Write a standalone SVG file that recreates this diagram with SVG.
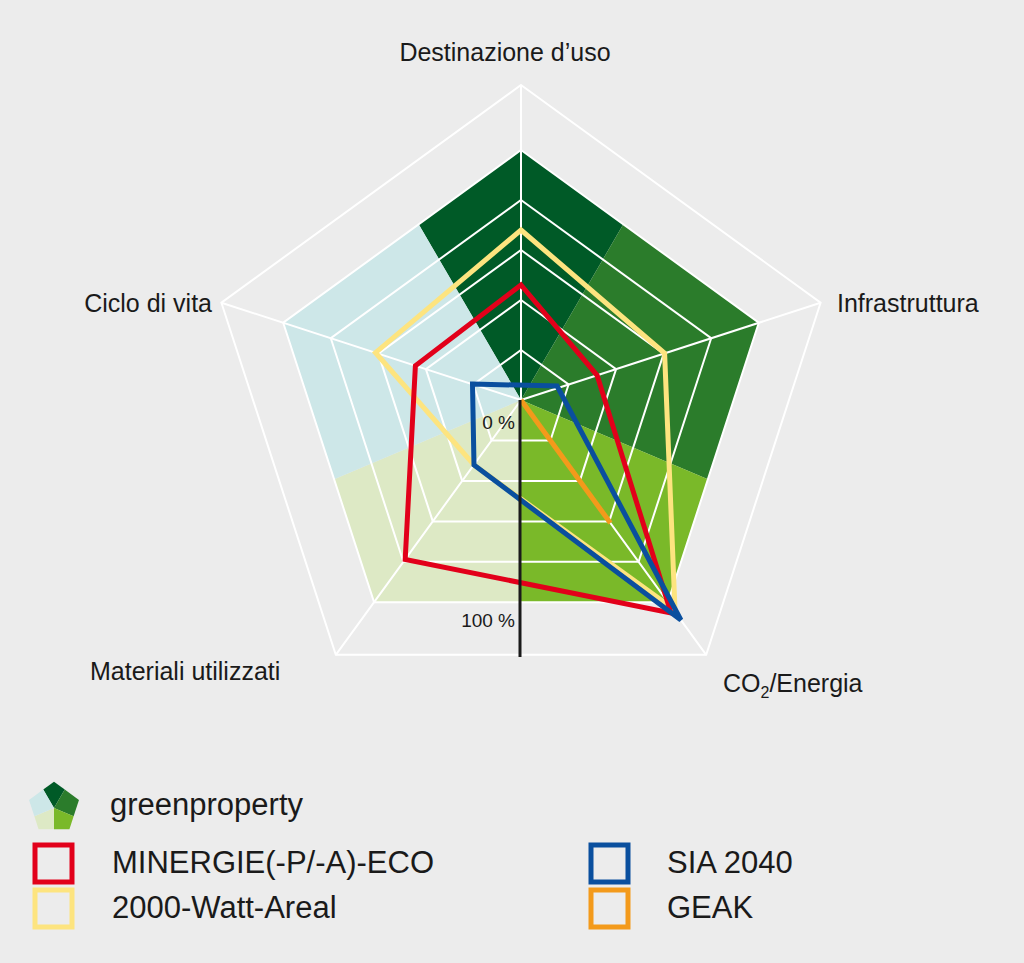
<svg xmlns="http://www.w3.org/2000/svg" xmlns:xlink="http://www.w3.org/1999/xlink" width="1024" height="963" viewBox="0 0 1024 963">
<style>
text{font-family:"Liberation Sans",Arial,sans-serif;fill:#1a1a1a}
.lbl{font-size:25px}
.leg{font-size:31px}
.pct{font-size:19px}
.grid{fill:none;stroke:#fff;stroke-width:2}
.d{fill:none;stroke-width:5;stroke-linejoin:miter}
.sq{fill:none;stroke-width:5}
</style>
<defs>
<g id="wedges">
<polygon fill="#005a27" points="521,400 418.7,224.3 521,150 623.3,224.3"/>
<polygon fill="#2b7c2b" points="521,400 623.3,224.3 758.8,322.7 707.9,479.3"/>
<polygon fill="#7ab929" points="521,400 707.9,479.3 667.9,602.3 521,602.3"/>
<polygon fill="#dde9c5" points="521,400 521,602.3 374.1,602.3 334.1,479.3"/>
<polygon fill="#cde7e8" points="521,400 334.1,479.3 283.2,322.7 418.7,224.3"/>
</g>
</defs>
<rect width="1024" height="963" fill="#ececec"/>
<g id="chart-areas"><use xlink:href="#wedges"/></g>
<g id="grid">
<polygon class="grid" points="521,85 820.6,302.7 706.2,654.8 335.8,654.8 221.4,302.7"/>
<polygon class="grid" points="521,150 758.8,322.7 667.9,602.3 374.1,602.3 283.2,322.7"/>
<polygon class="grid" points="521,200 711.2,338.2 638.6,561.8 403.4,561.8 330.8,338.2"/>
<polygon class="grid" points="521,250 663.7,353.6 609.2,521.4 432.8,521.4 378.3,353.6"/>
<polygon class="grid" points="521,300 616.1,369.1 579.8,480.9 462.2,480.9 425.9,369.1"/>
<polygon class="grid" points="521,350 568.6,384.5 550.4,440.5 491.6,440.5 473.4,384.5"/>
<path class="grid" d="M521,400V85M521,400L820.6,302.7M521,400L706.2,654.8M521,400L335.8,654.8M521,400L221.4,302.7"/>
</g>
<g id="connectors">
<polygon id="geak-2000" class="d" stroke="#fde47f" points="521,230 664.6,353.3 675,610 474,465 375.5,352.7"/>
<polygon id="minergie" class="d" stroke="#e2001a" points="521,285 597.1,375.3 671,613 405.2,559.4 415.4,365.7"/>
<polygon id="sia" class="d" stroke="#0a4f9e" points="472.5,384 557.1,386 680.9,620 474,465"/>
<line id="geak" class="d" stroke="#f39a1b" x1="521" y1="400" x2="610.4" y2="523"/>
<line id="axis" x1="520" y1="400" x2="520" y2="657" stroke="#1a1a1a" stroke-width="3"/>
</g>
<g id="axis-labels">
<text class="pct" x="515" y="429" text-anchor="end">0 %</text>
<text class="pct" x="515" y="627" text-anchor="end">100 %</text>
<text class="lbl" x="505" y="61" text-anchor="middle">Destinazione d’uso</text>
<text class="lbl" x="837" y="312">Infrastruttura</text>
<text class="lbl" x="212" y="312" text-anchor="end">Ciclo di vita</text>
<text class="lbl" x="90" y="680">Materiali utilizzati</text>
<text class="lbl" x="723" y="692">CO<tspan font-size="16" dy="6">2</tspan><tspan dy="-6">/Energia</tspan></text>
</g>
<g id="legend">
<g id="legend-greenproperty">
<use xlink:href="#wedges" transform="translate(54,808) scale(0.105) translate(-521,-400)"/>
<text class="leg" x="110" y="815">greenproperty</text>
</g>
<g id="legend-minergie"><rect class="sq" x="35" y="845" width="37" height="37" stroke="#e2001a"/><text class="leg" x="112" y="873">MINERGIE(-P/-A)-ECO</text></g>
<g id="legend-2000"><rect class="sq" x="35" y="890" width="37" height="37" stroke="#fde47f"/><text class="leg" x="112" y="918">2000-Watt-Areal</text></g>
<g id="legend-sia"><rect class="sq" x="591" y="845" width="37" height="37" stroke="#0a4f9e"/><text class="leg" x="667" y="873">SIA 2040</text></g>
<g id="legend-geak"><rect class="sq" x="591" y="890" width="37" height="37" stroke="#f39a1b"/><text class="leg" x="667" y="918">GEAK</text></g>
</g>
</svg>
